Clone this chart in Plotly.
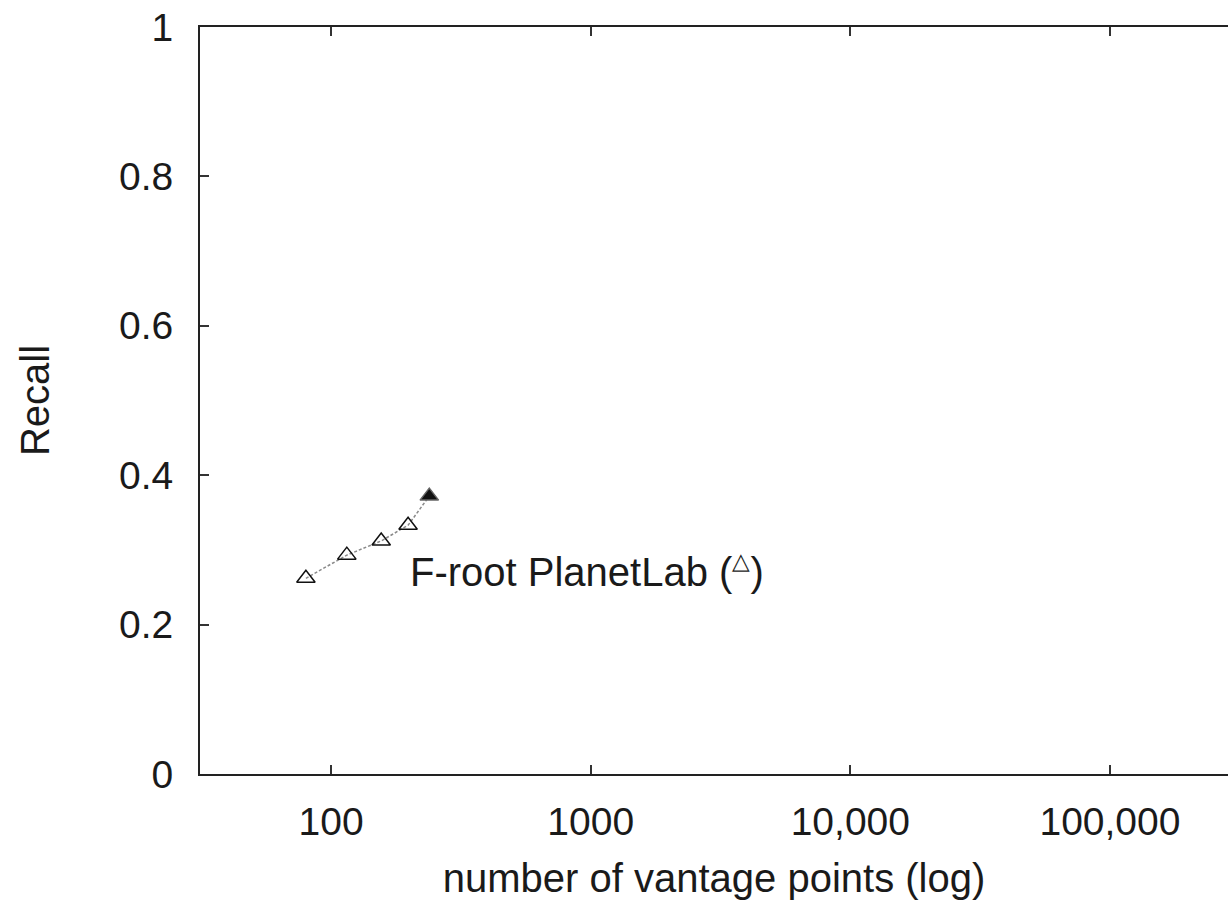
import plotly.graph_objects as go

# F-root PlanetLab recall vs. number of vantage points
vantage_points = [80, 115, 156, 198, 239]
recall = [0.262, 0.293, 0.312, 0.333, 0.372]
point_symbols = ["triangle-up-open"] * 4 + ["triangle-up"]

x_tickvals = [100, 1000, 10000, 100000]
x_ticktext = ["100", "1000", "10,000", "100,000"]
y_tickvals = [0, 0.2, 0.4, 0.6, 0.8, 1]
y_ticktext = ["0", "0.2", "0.4", "0.6", "0.8", "1"]

font = "Liberation Sans, Arial, sans-serif"
ink = "#1a1a1a"

fig = go.Figure()
fig.add_trace(go.Scatter(
    x=vantage_points, y=recall,
    mode="lines+markers",
    line=dict(color="#8a8a8a", width=1.5, dash="3px,2px"),
    marker=dict(symbol=point_symbols, size=16, color="#111",
                line=dict(color="#666", width=1.5)),
    showlegend=False,
))

fig.add_annotation(
    x=2.296, y=0.272, xref="x", yref="y",
    text="F-root PlanetLab (<sup><span style='font-size:23px'>△</span></sup>)",
    showarrow=False, xanchor="left", yanchor="middle",
    font=dict(family=font, size=40, color=ink),
)

fig.update_layout(
    width=1228, height=900,
    margin=dict(l=200, r=0, t=27, b=126),
    paper_bgcolor="white", plot_bgcolor="white",
    font=dict(family=font, size=39, color=ink),
    xaxis=dict(
        type="log", range=[1.4952, 5.4547], automargin=False,
        tickvals=x_tickvals, ticktext=x_ticktext,
        ticks="inside", ticklen=9, tickwidth=1.5, tickcolor="#333",
        showline=True, linecolor="#222", linewidth=2, mirror="ticks",
        showgrid=False, zeroline=False,
        ticklabelstandoff=12, ticklabeloverflow="allow",
        title=dict(text="number of vantage points (log)", standoff=40,
                   font=dict(size=40)),
    ),
    yaxis=dict(
        range=[0, 1], automargin=False,
        tickvals=y_tickvals, ticktext=y_ticktext,
        ticks="inside", ticklen=9, tickwidth=1.5, tickcolor="#333",
        showline=True, linecolor="#222", linewidth=2,
        showgrid=False, zeroline=False,
        ticklabelstandoff=17, ticklabeloverflow="allow",
        title=dict(text="Recall", standoff=57, font=dict(size=40)),
    ),
)

# drop the default 8px page margin so the figure sits flush with the window
fig.write_html("out.html", config={"displayModeBar": False},
               post_script="document.body.style.margin = '0';")
